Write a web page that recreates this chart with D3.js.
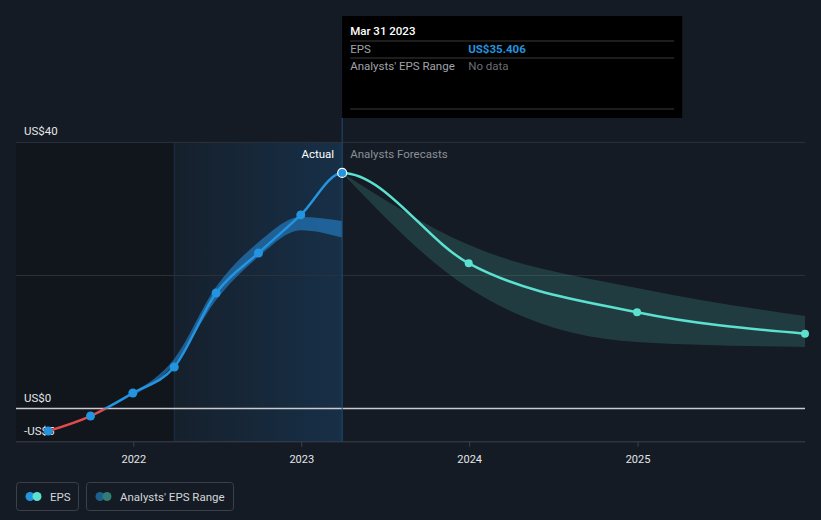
<!DOCTYPE html>
<html>
<head>
<meta charset="utf-8">
<script src="https://cdn.jsdelivr.net/npm/d3@7"></script>
<style>
  html, body { margin: 0; padding: 0; background: #151b24; }
  svg { display: block; font-family: Roboto, "Open Sans", sans-serif; }
</style>
</head>
<body>
<div id="chart"></div>
<script>
// EPS actuals (quarterly, trailing)
const actualDates = ['2021-06-30', '2021-09-30', '2021-12-31', '2022-03-31', '2022-06-30', '2022-09-30', '2022-12-31', '2023-03-31'];
const actualEps = [-3.38, -1.13, 2.33, 6.24, 17.37, 23.38, 29.1, 35.406];

// Past analysts' range
const pastRangeDates = ['2021-12-31', '2022-03-31', '2022-06-30', '2022-09-30', '2022-12-31', '2023-03-31'];
const pastRangeLow = [1.9, 6.6, 16.3, 22.8, 26.8, 25.7];
const pastRangeHigh = [2.4, 7.5, 18.3, 25.0, 28.8, 28.2];

// Forecasts
const forecastDates = ['2023-03-31', '2023-12-31', '2024-12-31', '2025-12-31'];
const forecastEps = [35.406, 21.83, 14.47, 11.25];
const forecastLow = [35.406, 18.1, 10.0, 9.25];
const forecastHigh = [35.406, 24.6, 18.1, 13.9];

const yTicks = [40, 20, 0, -5];
const yLabels = ['US$40', 'US$0', '-US$5'];
const yLabelValues = [40, 0, -5];
const xTickYears = [2022, 2023, 2024, 2025];

const width = 821, height = 520;
const parse = d3.utcParse('%Y-%m-%d');

const svg = d3.select('#chart').append('svg')
    .attr('width', width)
    .attr('height', height);

const x = d3.scaleUtc()
    .domain([parse('2021-04-21'), parse('2025-12-31')])
    .range([16, 805]);

const y = d3.scaleLinear()
    .domain([-5, 40])
    .range([441.8, 142.4]);

const plotTop = y(40), plotBottom = y(-5);
const splitX = x(parse('2023-03-31'));
const pastStartX = x(parse('2022-03-31'));

const defs = svg.append('defs');
const grad = defs.append('linearGradient').attr('id', 'pastGrad').attr('x1', 0).attr('x2', 1);
grad.append('stop').attr('offset', '0%').attr('stop-color', '#1a4c78').attr('stop-opacity', 0.1);
grad.append('stop').attr('offset', '100%').attr('stop-color', '#1a4c78').attr('stop-opacity', 0.42);

// Shaded regions
svg.append('rect')
    .attr('x', x.range()[0]).attr('y', plotTop)
    .attr('width', pastStartX - x.range()[0]).attr('height', plotBottom - plotTop)
    .attr('fill', '#0d0f14').attr('opacity', 0.45);

svg.append('rect')
    .attr('x', pastStartX).attr('y', plotTop)
    .attr('width', splitX - pastStartX).attr('height', plotBottom - plotTop)
    .attr('fill', 'url(#pastGrad)');

svg.append('line')
    .attr('x1', pastStartX).attr('x2', pastStartX)
    .attr('y1', plotTop).attr('y2', plotBottom)
    .attr('stroke', '#1c3148').attr('stroke-width', 1);

// Grid lines
svg.append('g')
    .selectAll('line')
    .data(yTicks)
    .enter()
    .append('line')
    .attr('x1', x.range()[0])
    .attr('x2', x.range()[1])
    .attr('y1', d => y(d))
    .attr('y2', d => y(d))
    .attr('stroke', d => d === 0 ? '#c9cbcf' : (d === -5 ? '#3c424b' : '#2c323b'))
    .attr('stroke-width', d => d === 0 ? 1.5 : 1);

// Y labels
svg.append('g')
    .selectAll('text')
    .data(yLabelValues)
    .enter()
    .append('text')
    .attr('x', 24)
    .attr('y', d => y(d) - 7)
    .attr('font-size', '11.5px')
    .attr('fill', '#e4e6e8')
    .text((d, i) => yLabels[i]);

// X axis
svg.append('g')
    .attr('transform', `translate(0,${plotBottom})`)
    .call(d3.axisBottom(x)
        .tickValues(xTickYears.map(yr => new Date(Date.UTC(yr, 0, 1))))
        .tickFormat(d3.utcFormat('%Y'))
        .tickSize(5)
        .tickSizeOuter(0))
    .call(g => g.select('.domain').remove())
    .call(g => g.selectAll('line').attr('stroke', '#3c424b'))
    .call(g => g.selectAll('text').attr('font-size', '11px').attr('fill', '#e4e6e8').attr('dy', '1.2em')
        .attr('font-family', 'Roboto, sans-serif'));

// Bands
const area = d3.area()
    .x(d => x(d.date))
    .y0(d => y(d.low))
    .y1(d => y(d.high))
    .curve(d3.curveMonotoneX);

const pastBand = pastRangeDates.map((d, i) => ({date: parse(d), low: pastRangeLow[i], high: pastRangeHigh[i]}));
const forecastBand = forecastDates.map((d, i) => ({date: parse(d), low: forecastLow[i], high: forecastHigh[i]}));

svg.append('path')
    .datum(pastBand)
    .attr('d', area)
    .attr('fill', '#2276b8')
    .attr('fill-opacity', 0.72);

svg.append('path')
    .datum(forecastBand)
    .attr('d', area)
    .attr('fill', '#5ce0cf')
    .attr('fill-opacity', 0.17);

// Split line
svg.append('line')
    .attr('x1', splitX).attr('x2', splitX)
    .attr('y1', 118).attr('y2', plotBottom)
    .attr('stroke', '#1f4b70').attr('stroke-width', 1);

// EPS line: one continuous curve, clipped into pieces
const series = actualDates.map((d, i) => ({date: parse(d), v: actualEps[i]}))
    .concat(forecastDates.slice(1).map((d, i) => ({date: parse(d), v: forecastEps[i + 1]})));

const line = d3.line()
    .x(d => x(d.date))
    .y(d => y(d.v))
    .curve(d3.curveMonotoneX);

defs.append('clipPath').attr('id', 'clipNeg')
    .append('rect').attr('x', 0).attr('y', y(0)).attr('width', splitX).attr('height', height);
defs.append('clipPath').attr('id', 'clipPos')
    .append('rect').attr('x', 0).attr('y', 0).attr('width', splitX).attr('height', y(0));
defs.append('clipPath').attr('id', 'clipFc')
    .append('rect').attr('x', splitX).attr('y', 0).attr('width', width - splitX).attr('height', height);

const lineParts = [
    {clip: 'clipNeg', color: '#e24a4d'},
    {clip: 'clipPos', color: '#2394df'},
    {clip: 'clipFc', color: '#5ce0cf'}
];

svg.selectAll('.eps-line')
    .data(lineParts)
    .enter()
    .append('path')
    .attr('class', 'eps-line')
    .attr('clip-path', d => `url(#${d.clip})`)
    .attr('d', line(series))
    .attr('fill', 'none')
    .attr('stroke', d => d.color)
    .attr('stroke-width', 2.5);

// Dots
const actualPts = series.slice(0, actualDates.length);
svg.selectAll('.dot-actual')
    .data(actualPts.slice(0, -1))
    .enter()
    .append('circle')
    .attr('cx', d => x(d.date))
    .attr('cy', d => y(d.v))
    .attr('r', 4.5)
    .attr('fill', '#2394df');

svg.selectAll('.dot-fc')
    .data(series.slice(actualDates.length))
    .enter()
    .append('circle')
    .attr('cx', d => x(d.date))
    .attr('cy', d => y(d.v))
    .attr('r', 4)
    .attr('fill', '#5ce0cf');

const last = actualPts[actualPts.length - 1];
svg.append('circle')
    .attr('cx', x(last.date))
    .attr('cy', y(last.v))
    .attr('r', 4.5)
    .attr('fill', '#2394df')
    .attr('stroke', '#ffffff')
    .attr('stroke-width', 1.2);

// Actual / Forecast labels
svg.append('text')
    .attr('x', splitX - 8).attr('y', 158)
    .attr('text-anchor', 'end')
    .attr('font-size', '11.5px').attr('fill', '#ffffff')
    .text('Actual');
svg.append('text')
    .attr('x', splitX + 8).attr('y', 158)
    .attr('font-size', '11.5px').attr('fill', '#8b9097')
    .text('Analysts Forecasts');

// Tooltip
const tip = svg.append('g').attr('transform', `translate(${splitX},16)`);
tip.append('rect')
    .attr('width', 340).attr('height', 102)
    .attr('fill', '#000000');
tip.append('text').attr('x', 8).attr('y', 19)
    .attr('font-size', '11.5px').attr('fill', '#ffffff').attr('font-weight', 500)
    .text('Mar 31 2023');
[25, 42, 93].forEach(yy => {
    tip.append('line').attr('x1', 8).attr('x2', 332).attr('y1', yy).attr('y2', yy)
        .attr('stroke', '#3a3a3a').attr('stroke-width', 1);
});
tip.append('text').attr('x', 8).attr('y', 37)
    .attr('font-size', '11.5px').attr('fill', '#a0a3a8').text('EPS');
tip.append('text').attr('x', 126).attr('y', 37)
    .attr('font-size', '11.5px').attr('fill', '#2394df').attr('font-weight', 'bold').text('US$35.406');
tip.append('text').attr('x', 8).attr('y', 54)
    .attr('font-size', '11.5px').attr('fill', '#a0a3a8').text("Analysts' EPS Range");
tip.append('text').attr('x', 126).attr('y', 54)
    .attr('font-size', '11.5px').attr('fill', '#6b6e73').text('No data');

// Legend
const legendItems = [
    {label: 'EPS', c1: '#2394df', c2: '#5ce0cf', x: 16, w: 62},
    {label: "Analysts' EPS Range", c1: '#1f5f8e', c2: '#2f7d74', x: 86, w: 147}
];
const lg = svg.append('g').selectAll('g')
    .data(legendItems)
    .enter()
    .append('g')
    .attr('transform', d => `translate(${d.x},482)`);
lg.append('rect')
    .attr('x', 0.5).attr('y', 0.5)
    .attr('width', d => d.w).attr('height', 28)
    .attr('rx', 3)
    .attr('fill', 'none')
    .attr('stroke', '#3b4049');
lg.append('circle').attr('cx', 14).attr('cy', 14.5).attr('r', 4.5).attr('fill', d => d.c1);
lg.append('circle').attr('cx', 21).attr('cy', 14.5).attr('r', 4.5).attr('fill', d => d.c2);
lg.append('text')
    .attr('x', 34).attr('y', 18.5)
    .attr('font-size', '11.5px').attr('fill', '#d4d6d9')
    .text(d => d.label);
</script>
</body>
</html>
